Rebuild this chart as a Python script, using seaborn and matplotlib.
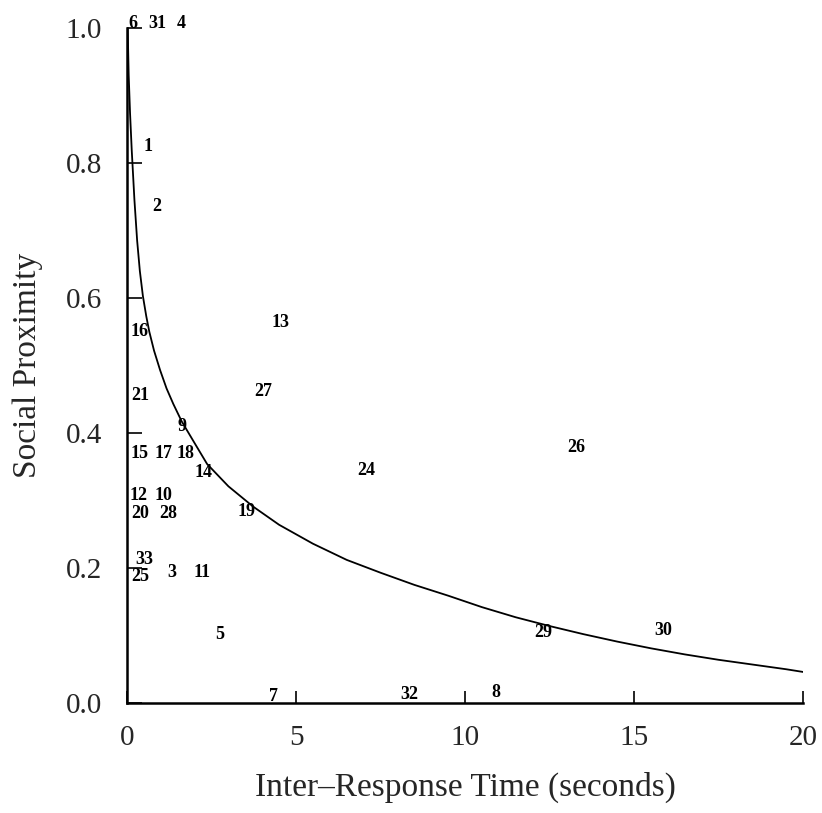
import matplotlib
matplotlib.use("Agg")
import matplotlib.pyplot as plt
import seaborn as sns
import pandas as pd

# numbered points (label, inter-response time, social proximity)
point_labels = ["6", "31", "4", "1", "2", "16", "21", "13", "27", "9",
                "15", "17", "18", "14", "12", "10", "20", "28", "19", "33",
                "25", "3", "11", "5", "7", "32", "8", "29", "30", "26", "24"]
point_x = [0.18, 0.90, 1.60, 0.62, 0.89, 0.38, 0.38, 4.53, 4.02, 1.63,
           0.38, 1.07, 1.72, 2.25, 0.33, 1.09, 0.38, 1.21, 3.55, 0.50,
           0.38, 1.33, 2.22, 2.75, 4.32, 8.34, 10.92, 12.31, 15.86, 13.28, 7.07]
point_y = [1.007, 1.007, 1.007, 0.825, 0.735, 0.550, 0.456, 0.563, 0.461, 0.409,
           0.370, 0.370, 0.370, 0.341, 0.308, 0.308, 0.281, 0.281, 0.283, 0.212,
           0.188, 0.193, 0.193, 0.102, 0.010, 0.013, 0.015, 0.105, 0.108, 0.378, 0.344]

# fitted curve
curve_x = [0.02, 0.05, 0.09, 0.14, 0.22, 0.30, 0.38, 0.47, 0.57, 0.66,
           0.80, 0.98, 1.17, 1.37, 1.62, 2.0, 2.37, 3.0, 3.73, 4.5,
           5.5, 6.5, 7.5, 8.5, 9.5, 10.5, 11.5, 12.5, 13.5, 14.5,
           15.5, 16.5, 17.5, 18.5, 19.5, 20.0]
curve_y = [1.0, 0.93, 0.874, 0.819, 0.745, 0.685, 0.640, 0.603, 0.573, 0.550,
           0.522, 0.493, 0.466, 0.443, 0.417, 0.385, 0.354, 0.321, 0.291, 0.264,
           0.236, 0.212, 0.193, 0.175, 0.159, 0.142, 0.127, 0.114, 0.102, 0.091,
           0.081, 0.072, 0.064, 0.057, 0.050, 0.046]

x_ticks = [0, 5, 10, 15, 20]
y_ticks = [0.0, 0.2, 0.4, 0.6, 0.8, 1.0]

sns.set_style("ticks")
plt.rcParams['font.family'] = ['Liberation Serif', 'DejaVu Serif']

fig = plt.figure(figsize=(8.22, 8.13), dpi=100)
ax = fig.add_axes([0.1545, 0.1353, 0.8225, 0.8303])

curve = pd.DataFrame({"x": curve_x, "y": curve_y})
sns.lineplot(data=curve, x="x", y="y", color="black", linewidth=1.3, sort=False, ax=ax)

for lab, xv, yv in zip(point_labels, point_x, point_y):
    ax.text(xv, yv, lab, ha="center", va="center", fontsize=13,
            fontweight="bold", color="black", clip_on=False)

ax.set_xlim(0, 20)
ax.set_ylim(0, 1)
ax.set_xticks(x_ticks)
ax.set_yticks(y_ticks)
ax.set_yticklabels([f"{v:.1f}" for v in y_ticks])
ax.tick_params(axis="y", direction="in", length=11, width=1.2, labelsize=21, pad=18, color="black")
ax.tick_params(axis="x", direction="in", length=9, width=1.2, labelsize=21, pad=16, color="black")
for s in ["top", "right"]:
    ax.spines[s].set_visible(False)
for s in ["left", "bottom"]:
    ax.spines[s].set_linewidth(1.8)
    ax.spines[s].set_color("black")

ax.set_xlabel("Inter\u2013Response Time (seconds)", fontsize=24, labelpad=15)
ax.set_ylabel("Social Proximity", fontsize=24, labelpad=16)

fig.savefig("out.png", dpi=100)
